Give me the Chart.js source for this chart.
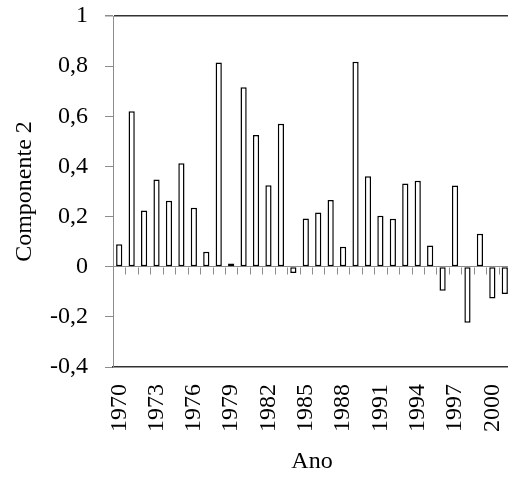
<!DOCTYPE html>
<html>
<head>
<meta charset="utf-8">
<script src="https://cdn.jsdelivr.net/npm/chart.js@4"></script>
<style>
html, body { margin: 0; padding: 0; background: #fff; overflow: hidden; width: 508px; height: 479px; }
#wrap { width: 512px; height: 479px; }
</style>
</head>
<body>
<div id="wrap"><canvas id="c" width="512" height="479"></canvas></div>
<script>
const years = [1970,1971,1972,1973,1974,1975,1976,1977,1978,1979,1980,1981,1982,1983,1984,1985,
               1986,1987,1988,1989,1990,1991,1992,1993,1994,1995,1996,1997,1998,1999,2000,2001];
const componente2 = [0.09,0.62,0.224,0.348,0.263,0.413,0.235,0.06,0.815,0.013,0.716,0.525,0.325,0.57,-0.025,0.192,
                     0.216,0.266,0.08,0.818,0.361,0.203,0.191,0.332,0.343,0.085,-0.096,0.324,-0.224,0.131,-0.127,-0.109];
const yTicks = [-0.4,-0.2,0,0.2,0.4,0.6,0.8,1];
const xTitle = 'Ano';
const yTitle = 'Componente 2';

const FONT = "'Liberation Serif', 'Times New Roman', serif";

const zeroTicks = {
  id: 'zeroTicks',
  beforeDatasetsDraw(chart) {
    const x = chart.scales.x, y = chart.scales.y;
    const ctx = chart.ctx;
    const y0 = Math.round(y.getPixelForValue(0)) + 0.5;
    ctx.save();
    ctx.strokeStyle = '#8c8c8c';
    ctx.lineWidth = 1;
    ctx.beginPath();
    for (let i = 0; i < years.length - 1; i++) {
      const xb = Math.round((x.getPixelForValue(i) + x.getPixelForValue(i + 1)) / 2) + 0.5;
      ctx.moveTo(xb, y0);
      ctx.lineTo(xb, y0 + 7);
    }
    ctx.stroke();
    ctx.restore();
  }
};

new Chart(document.getElementById('c'), {
  type: 'bar',
  data: {
    labels: years.map(String),
    datasets: [{
      data: componente2,
      backgroundColor: '#ffffff',
      borderColor: '#000000',
      borderWidth: 1.5,
      borderSkipped: false,
      barPercentage: 0.5,
      categoryPercentage: 1
    }]
  },
  options: {
    responsive: false,
    devicePixelRatio: 1,
    animation: false,
    layout: { padding: { left: 0, right: 1, top: 16, bottom: 0 } },
    plugins: { legend: { display: false }, tooltip: { enabled: false } },
    scales: {
      x: {
        type: 'category',
        offset: true,
        grid: { display: true, drawOnChartArea: false, drawTicks: false },
        border: { display: true, color: '#333333', width: 1.5 },
        ticks: {
          autoSkip: false,
          minRotation: 90,
          maxRotation: 90,
          padding: 17,
          color: '#000',
          font: { family: FONT, size: 24 },
          callback: function(v, i) { return i % 3 === 0 ? this.getLabelForValue(v) : ''; }
        },
        title: {
          display: true, text: xTitle, color: '#000',
          font: { family: FONT, size: 24 },
          padding: { top: 0, bottom: 3 }
        },
        afterFit(scale) {
          scale.height = 112;
          scale.paddingLeft = 0; scale.paddingRight = 0;
        }
      },
      y: {
        min: -0.4, max: 1,
        afterBuildTicks(scale) { scale.ticks = yTicks.map(v => ({ value: v })); },
        grid: {
          drawTicks: true,
          tickLength: 8,
          tickColor: '#8c8c8c',
          color: ctx => {
            const v = Math.round(ctx.tick.value * 10) / 10;
            if (v === 0) return '#8c8c8c';
            if (v === 1) return '#333333';
            return 'rgba(0,0,0,0)';
          },
          lineWidth: ctx => (Math.round(ctx.tick.value * 10) / 10 === 1 ? 1.5 : 1)
        },
        border: { display: true, color: '#8c8c8c', width: 1 },
        ticks: {
          padding: 17,
          color: '#000',
          font: { family: FONT, size: 24 },
          callback: v => {
            const r = Math.round(v * 10) / 10;
            return String(r).replace('.', ',');
          }
        },
        title: {
          display: true, text: yTitle, color: '#000',
          font: { family: FONT, size: 24 },
          padding: { top: 10, bottom: 0 }
        },
        afterFit(scale) {
          scale.width = 113;
          scale.paddingTop = 0; scale.paddingBottom = 0;
        }
      }
    }
  },
  plugins: [zeroTicks]
});
</script>
</body>
</html>
